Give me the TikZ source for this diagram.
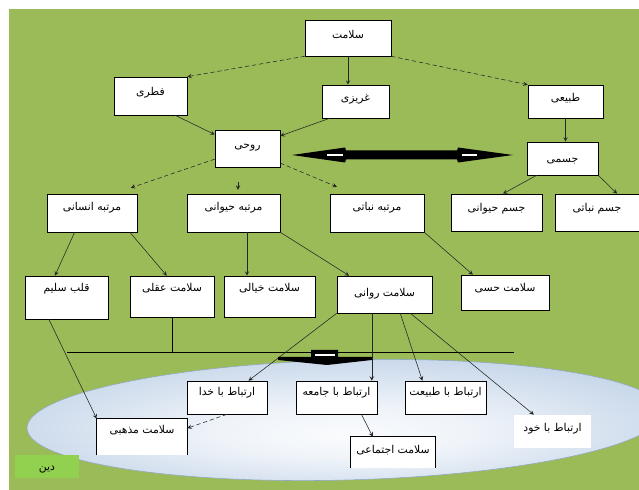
\documentclass[tikz,border=0pt]{standalone}
\usepackage{fontspec}
\newfontfamily\farsi[Script=Arabic]{DejaVu Sans}
\TeXXeTstate=1
\newcommand\fatxt[1]{\beginR#1\endR}
\usepackage{tikz}
\tikzset{>=stealth}
\definecolor{bggreen}{HTML}{9BBB59}
\definecolor{dingreen}{HTML}{92D050}
\definecolor{poolblue}{HTML}{95B3D7}
\pgfdeclareradialshading{poolshade}{\pgfpoint{0bp}{-6bp}}{color(0bp)=(white!95!poolblue); color(10bp)=(white!85!poolblue); color(50bp)=(poolblue)}
\tikzset{
  tbox/.style={draw=black, fill=white, inner sep=0pt, text height=7pt, text depth=#1,
    font=\farsi\fontsize{7.7}{9}\selectfont},
  tbox/.default=2pt,
  sz/.style 2 args={minimum width=#1cm, minimum height=#2cm}
}

\begin{document}
\begin{tikzpicture}[x=0.025cm, y=-0.025cm]
  \useasboundingbox (0,0) rectangle (639,490);
  \fill[white] (0,0) rectangle (639,490);
  \fill[bggreen] (9,9) rectangle (639,490);
  \shade[shading=poolshade, draw=poolblue!80!gray, rotate around={1.5:(345,420)}]
    (345,420) ellipse [x radius=7.95cm, y radius=1.5cm];

  \node[tbox=6.3pt, sz={2.15}{0.9}] (salamat) at (348,38) {\fatxt{سلامت}};
  \node[tbox=7.7pt, sz={1.825}{0.95}] (fetri) at (150.5,96) {\fatxt{فطری}};
  \node[tbox=7pt, sz={1.675}{0.825}] (gharizi) at (355.5,101.5) {\fatxt{غریزی}};
  \node[tbox=7pt, sz={1.875}{0.825}] (tabiei) at (565.5,101.5) {\fatxt{طبیعی}};
  \node[tbox=7pt, sz={1.625}{0.925}] (ruhi) at (247.5,148.5) {\fatxt{روحی}};
  \node[tbox, sz={1.775}{0.825}] (jesmi) at (562.5,158.5) {\fatxt{جسمی}};

  \node[tbox=10.5pt, sz={2.25}{0.95}] (mensani) at (92,213) {\fatxt{مرتبه انسانی}};
  \node[tbox=10.5pt, sz={2.325}{0.95}] (mheyvani) at (233.5,213) {\fatxt{مرتبه حیوانی}};
  \node[tbox=10.5pt, sz={2.35}{0.95}] (mnabati) at (377,213) {\fatxt{مرتبه نباتی}};
  \node[tbox=8.4pt, sz={2.275}{0.925}] (jheyvani) at (496.5,212.5) {\fatxt{جسم حیوانی}};
  \node[tbox=8.4pt, sz={2.1}{0.925}] (jnabati) at (597,212.5) {\fatxt{جسم نباتی}};

  \node[tbox=15.5pt, sz={2.075}{1.075}] (qalb) at (66.5,297.5) {\fatxt{قلب سلیم}};
  \node[tbox=14pt, sz={2.1}{1.025}] (aqli) at (172,296.5) {\fatxt{سلامت عقلی}};
  \node[tbox=14pt, sz={2.275}{1.025}] (khiali) at (269.5,296.5) {\fatxt{سلامت خیالی}};
  \node[tbox=4pt, sz={2.375}{0.925}] (ravani) at (384.5,294.5) {\fatxt{سلامت روانی}};
  \node[tbox=8.4pt, sz={2.2}{0.875}] (hessi) at (505,292.5) {\fatxt{سلامت حسی}};

  \node[tbox=9.8pt, sz={2.0}{0.825}] (khoda) at (227,397.5) {\fatxt{ارتباط با خدا}};
  \node[tbox=9.8pt, sz={2.025}{0.825}] (jame) at (336.5,397.5) {\fatxt{ارتباط با جامعه}};
  \node[tbox=9.8pt, sz={2.025}{0.825}] (tabiat) at (445.5,397.5) {\fatxt{ارتباط با طبیعت}};
  \node[tbox=7pt, sz={1.925}{0.825}, draw=none] (khod) at (552.5,431.5) {\fatxt{ارتباط با خود}};
  \node[tbox=12pt, sz={2.25}{0.9}, draw=none] (mazhabi) at (142,437) {\fatxt{سلامت مذهبی}};
  \node[tbox=5.5pt, sz={2.1}{0.775}, draw=none] (ejtemaei) at (393,452.5) {\fatxt{سلامت اجتماعی}};
  \node[tbox, sz={1.6}{0.575}, draw=none, fill=dingreen] (din) at (47,466.5) {\fatxt{دین}};
  \draw (mazhabi.south west) |- (mazhabi.north east) -- (mazhabi.south east);
  \draw (ejtemaei.south west) |- (ejtemaei.north east) -- (ejtemaei.south east);

  \coordinate (hleft) at (67,352.5);
  \coordinate (hright) at (514,352.5);
  \draw[line width=0.7pt] (hleft) -- (hright);
  \draw[line width=0.7pt] (aqli.south) -- (aqli.south |- hleft);

  \begin{scope}[->, black!85]
    \draw[densely dashed] (salamat.south west) -- (fetri.north east);
    \draw (salamat.south) -- (salamat.south |- gharizi.north);
    \draw[densely dashed] (salamat.south east) -- (tabiei.north west);
    \draw (fetri.-38) -- (ruhi.157);
    \draw (gharizi.-147) -- (ruhi.21);
    \draw[densely dashed, shorten >=13pt] (ruhi.-162) -- (mensani.42);
    \draw[densely dashed, shorten >=12.5pt] (ruhi.-24) -- (mnabati.141);
    \draw ([xshift=3.2pt,yshift=8pt]mheyvani.north) -- ([xshift=3.2pt,yshift=2.8pt]mheyvani.north);
    \draw (tabiei.south) -- (tabiei.south |- jesmi.north);
    \draw (jesmi.-147) -- (jheyvani.71);
    \draw (jesmi.south east) -- (jnabati.43);
    \draw (mensani.-132) -- (qalb.118);
    \draw (mensani.-27) -- (aqli.104);
    \draw (mheyvani.-55) -- (mheyvani.-55 |- khiali.north);
    \draw (mheyvani.south east) -- (ravani.152);
    \draw (mnabati.south east) -- (hessi.151);
    \draw (qalb.-129) -- (mazhabi.north west);
    \draw (ravani.south west) -- (khoda.38);
    \draw (ravani.-124) -- (ravani.-124 |- jame.north);
    \draw (ravani.-50) -- (tabiat.144);
    \draw (ravani.-36) -- (khod.138);
    \draw[densely dashed] (khoda.south) -- (mazhabi.11);
    \draw (jame.-34) -- (ejtemaei.142);
  \end{scope}

  \fill[black] (292,155) -- (345,147.5) -- (346,150.5) -- (457,150.5) -- (458,147.5)
    -- (513,155) -- (458,162.5) -- (457,159.5) -- (346,159.5) -- (345,162.5) -- cycle;
  \fill[white] (327,154) rectangle (343,156.5);
  \fill[white] (462,154) rectangle (477,156.5);
  \fill[black] (311,350) -- (338,350) -- (338,357) -- (372,357) -- (372,360) -- (327,365)
    -- (278,360) -- (278,357) -- (311,357) -- cycle;
  \fill[white] (315,354.5) rectangle (335,356.5);
\end{tikzpicture}
\end{document}
